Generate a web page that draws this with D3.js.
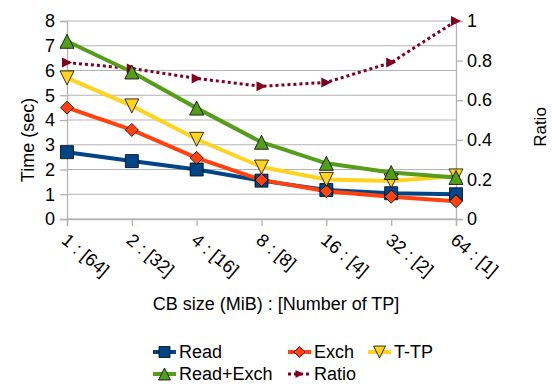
<!DOCTYPE html>
<html>
<head>
<meta charset="utf-8">
<script src="https://cdn.jsdelivr.net/npm/d3@7"></script>
<style>
  body { margin: 0; background: #fff; }
  text { font-family: "Liberation Sans", Arial, sans-serif; fill: #000; }
</style>
</head>
<body>
<div id="chart"></div>
<script>
// data
var categories = ["1 : [64]", "2 : [32]", "4 : [16]", "8 : [8]", "16 : [4]", "32 : [2]", "64 : [1]"];
var readVals = [2.7, 2.34, 2.0, 1.55, 1.17, 1.04, 1.0];
var exchVals = [4.5, 3.6, 2.47, 1.58, 1.12, 0.9, 0.72];
var ttpVals = [5.7, 4.57, 3.22, 2.1, 1.6, 1.54, 1.74];
var readExchVals = [7.18, 5.94, 4.48, 3.1, 2.25, 1.88, 1.68];
var ratioVals = [0.79, 0.76, 0.71, 0.67, 0.69, 0.79, 1.0];
var timeTicks = [0, 1, 2, 3, 4, 5, 6, 7, 8];
var ratioTicks = [0, 0.2, 0.4, 0.6, 0.8, 1];

var width = 552, height = 384;
var plotLeft = 67, plotRight = 456, plotTop = 21, plotBottom = 219;

var svg = d3.select("#chart").append("svg")
  .attr("width", width)
  .attr("height", height);

var x = d3.scalePoint().domain(categories).range([plotLeft, plotRight]).padding(0);
var y = d3.scaleLinear().domain([0, 8]).range([plotBottom, plotTop]);
var y2 = d3.scaleLinear().domain([0, 1]).range([plotBottom, plotTop]);

// grid
svg.append("g").selectAll("line")
  .data(timeTicks)
  .enter().append("line")
  .attr("x1", plotLeft).attr("x2", plotRight)
  .attr("y1", function (d) { return y(d); })
  .attr("y2", function (d) { return y(d); })
  .attr("stroke", "#b3b3b3")
  .attr("stroke-width", 1);

// left axis
var gl = svg.append("g")
  .attr("transform", "translate(" + plotLeft + ",0)")
  .call(d3.axisLeft(y).tickValues(timeTicks).tickSize(7).tickPadding(5));
// right axis
var gr = svg.append("g")
  .attr("transform", "translate(" + plotRight + ",0)")
  .call(d3.axisRight(y2).tickValues(ratioTicks).tickSize(7).tickPadding(4)
    .tickFormat(function (d) { return d3.format("~g")(d); }));
// bottom axis
var gb = svg.append("g")
  .attr("transform", "translate(0," + plotBottom + ")")
  .call(d3.axisBottom(x).tickSize(7).tickPadding(4));

[gl, gr, gb].forEach(function (g) {
  g.attr("font-family", null).attr("font-size", null);
  g.select(".domain").attr("stroke", "#b3b3b3").attr("stroke-width", 1.3);
  g.selectAll(".tick line").attr("stroke", "#b3b3b3").attr("stroke-width", 1.3);
  g.selectAll("text").attr("fill", "#000");
});
gl.selectAll("text").style("font-size", "18px");
gr.selectAll("text").style("font-size", "18px");
gb.selectAll("text")
  .style("font-size", "18px")
  .attr("text-anchor", "start")
  .attr("y", 0)
  .attr("dy", "0")
  .attr("transform", "translate(-7,23) rotate(40)");

// axis titles
svg.append("text")
  .attr("transform", "translate(34,140) rotate(-90)")
  .attr("text-anchor", "middle")
  .style("font-size", "18px")
  .text("Time (sec)");
svg.append("text")
  .attr("transform", "translate(546,127) rotate(-90)")
  .attr("text-anchor", "middle")
  .style("font-size", "17px")
  .text("Ratio");
svg.append("text")
  .attr("x", 276).attr("y", 310)
  .attr("text-anchor", "middle")
  .style("font-size", "18px")
  .text("CB size (MiB) : [Number of TP]");

var series = [
  { name: "Read", values: readVals, color: "#004586", shape: "square", axis: y },
  { name: "Exch", values: exchVals, color: "#ff420e", shape: "diamond", axis: y },
  { name: "T-TP", values: ttpVals, color: "#ffd320", shape: "down", axis: y },
  { name: "Read+Exch", values: readExchVals, color: "#579d1c", shape: "up", axis: y },
  { name: "Ratio", values: ratioVals, color: "#7e0021", shape: "right", axis: y2, dotted: true }
];

function markerPath(shape, s) {
  var h = s / 2;
  if (shape === "square") return "M" + -h + "," + -h + "h" + s + "v" + s + "h" + -s + "Z";
  if (shape === "diamond") return "M0," + -h + "L" + h + ",0L0," + h + "L" + -h + ",0Z";
  if (shape === "up") return "M0," + -h + "L" + h + "," + h + "L" + -h + "," + h + "Z";
  if (shape === "down") return "M" + -h + "," + -h + "L" + h + "," + -h + "L0," + h + "Z";
  return "M" + -h + "," + -h + "L" + h + ",0L" + -h + "," + h + "Z";
}
function markerSize(shape) {
  if (shape === "square") return 13;
  if (shape === "diamond") return 13;
  if (shape === "right") return 10;
  return 14;
}

var drawOrder = [series[4], series[0], series[1], series[2], series[3]];
drawOrder.forEach(function (s) {
  var line = d3.line()
    .x(function (d, i) { return x(categories[i]); })
    .y(function (d) { return s.axis(d); });
  svg.append("path")
    .datum(s.values)
    .attr("d", line)
    .attr("fill", "none")
    .attr("stroke", s.color)
    .attr("stroke-width", s.dotted ? 3 : 4)
    .attr("stroke-dasharray", s.dotted ? "3,3" : null);
});
drawOrder.forEach(function (s) {
  svg.append("g").selectAll("path")
    .data(s.values)
    .enter().append("path")
    .attr("transform", function (d, i) {
      return "translate(" + x(categories[i]) + "," + s.axis(d) + ")";
    })
    .attr("d", markerPath(s.shape, markerSize(s.shape)))
    .attr("fill", s.color)
    .attr("stroke", s.dotted ? "none" : "#000")
    .attr("stroke-width", 0.8);
});

// legend
var legendPos = [
  { s: series[0], x: 153, y: 352 },
  { s: series[1], x: 288, y: 352 },
  { s: series[2], x: 368, y: 352 },
  { s: series[3], x: 153, y: 374 },
  { s: series[4], x: 288, y: 374 }
];
var lg = svg.append("g").selectAll("g")
  .data(legendPos)
  .enter().append("g")
  .attr("transform", function (d) { return "translate(" + d.x + "," + d.y + ")"; });
lg.append("line")
  .attr("x1", 0).attr("x2", 23)
  .attr("stroke", function (d) { return d.s.color; })
  .attr("stroke-width", function (d) { return d.s.dotted ? 3 : 4; })
  .attr("stroke-dasharray", function (d) { return d.s.dotted ? "3,3" : null; });
lg.append("path")
  .attr("transform", "translate(11.5,0)")
  .attr("d", function (d) { return markerPath(d.s.shape, markerSize(d.s.shape) - 2); })
  .attr("fill", function (d) { return d.s.color; })
  .attr("stroke", function (d) { return d.s.dotted ? "none" : "#000"; })
  .attr("stroke-width", 0.8);
lg.append("text")
  .attr("x", 26)
  .attr("dy", "0.35em")
  .style("font-size", "18px")
  .text(function (d) { return d.s.name; });
</script>
</body>
</html>
